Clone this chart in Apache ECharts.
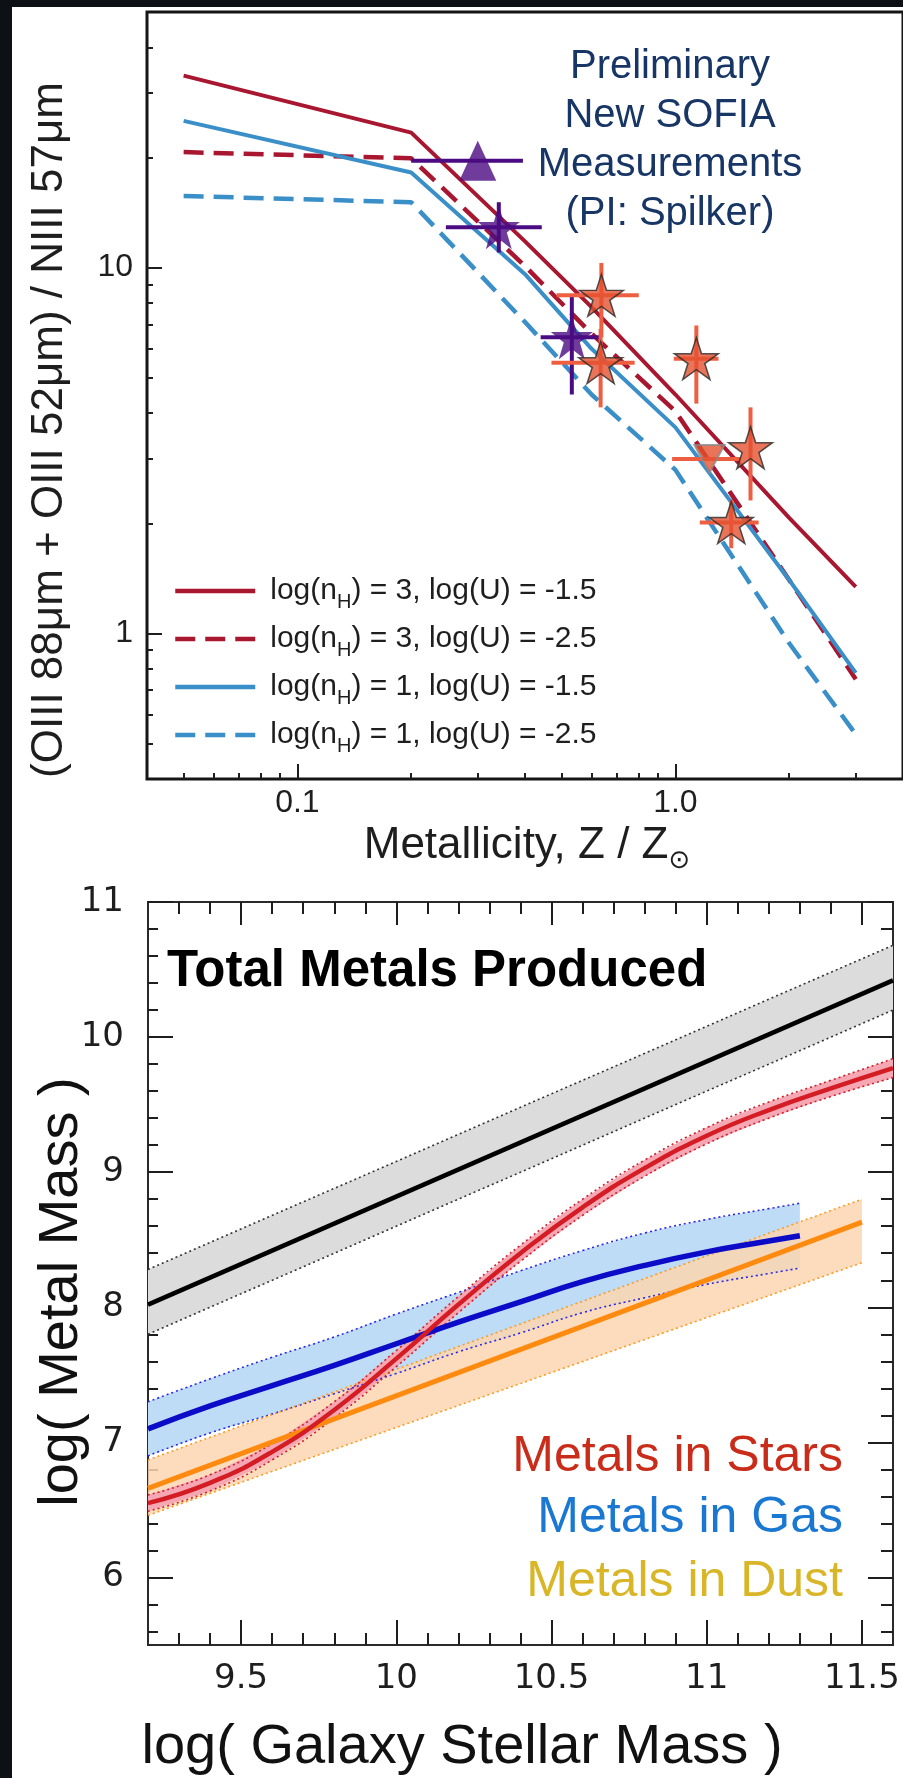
<!DOCTYPE html>
<html>
<head>
<meta charset="utf-8">
<title>Far-IR line ratios and the galaxy metal budget</title>
<script src="https://cdn.jsdelivr.net/npm/echarts@6.0.0/dist/echarts.min.js"></script>
<style>
  html, body { margin: 0; padding: 0; width: 903px; height: 1778px; background: #0d1014; overflow: hidden; }
  #paper { position: absolute; left: 12px; top: 7px; width: 891px; height: 1771px; background: #ffffff; }
  #chart { position: absolute; left: 0; top: 0; width: 903px; height: 1778px; }
</style>
</head>
<body>
<div id="paper"></div>
<div id="chart"></div>
<script>
// ---------- Upper panel: (OIII 88 + OIII 52) / NIII 57 versus metallicity ----------
const zModel     = [0.05, 0.2, 0.4, 0.6, 1.0, 2.0, 3.0];
const ratioN3U15 = [33.5, 23.4, 11.8, 7.8, 4.5, 2.07, 1.34];
const ratioN3U25 = [20.7, 19.9, 10.1, 6.6, 4.05, 1.4, 0.75];
const ratioN1U15 = [25.2, 18.2, 9.6, 6.0, 3.66, 1.4, 0.78];
const ratioN1U25 = [15.7, 15.1, 7.1, 4.5, 2.8, 0.94, 0.53];
const modelNames = [
  'log(nH) = 3, log(U) = -1.5',
  'log(nH) = 3, log(U) = -2.5',
  'log(nH) = 1, log(U) = -1.5',
  'log(nH) = 1, log(U) = -2.5'
];

// measurements: [Z, ratio, Z low, Z high, ratio low, ratio high]
const sofiaTriangle = [[0.30, 19.6, 0.20, 0.395, '-', '-']];
const sofiaStars = [
  [0.341, 12.9, 0.247, 0.443, 11.0, 15.1],
  [0.532, 6.45, 0.44, 0.634, 4.5, 8.4]
];
const litStars = [
  [0.637, 8.4, 0.485, 0.80, 6.45, 10.3],
  [0.634, 5.5, 0.47, 0.78, 4.15, 6.8],
  [1.136, 5.64, 0.99, 1.30, 4.25, 6.95],
  [1.58, 3.22, '-', '-', 2.31, 4.15],
  [1.405, 2.01, 1.16, 1.66, 1.71, 2.31]
];
const litLimit = [[1.23, 3.0, 0.98, 1.49, '-', '-']];

const upperXMajor  = [0.1, 1];
const upperXLabels = ['0.1', '1.0'];
const upperXMinor  = [0.05, 0.06, 0.07, 0.08, 0.09, 0.2, 0.3, 0.4, 0.5, 0.6, 0.7, 0.8, 0.9, 2, 3];
const upperYMajor  = [1, 10];
const upperYLabels = ['1', '10'];
const upperYMinor  = [0.5, 0.6, 0.7, 0.8, 0.9, 2, 3, 4, 5, 6, 7, 8, 9, 20, 30, 40];

// ---------- Lower panel: metal mass budget versus stellar mass ----------
const massTotal = [9.2, 11.6];
const totalMid  = [8.02, 10.42];
const totalHi   = [8.28, 10.68];
const totalLo   = [7.80, 10.20];

const massStars = [9.2, 9.4, 9.6, 9.8, 10.0, 10.2, 10.4, 10.6, 10.8, 11.0, 11.2, 11.4, 11.6];
const starsMid  = [6.55, 6.70, 6.93, 7.24, 7.62, 8.02, 8.40, 8.74, 9.03, 9.27, 9.46, 9.62, 9.77];
const starsHi   = [6.61, 6.76, 6.99, 7.30, 7.68, 8.08, 8.46, 8.80, 9.09, 9.33, 9.52, 9.68, 9.84];
const starsLo   = [6.49, 6.64, 6.87, 7.18, 7.56, 7.96, 8.34, 8.68, 8.97, 9.21, 9.40, 9.56, 9.70];

const massGas = [9.2, 9.4, 9.6, 9.8, 10.0, 10.2, 10.4, 10.6, 10.8, 11.0, 11.2, 11.3];
const gasMid  = [7.10, 7.27, 7.42, 7.57, 7.73, 7.89, 8.04, 8.19, 8.31, 8.41, 8.49, 8.53];
const gasHi   = [7.30, 7.47, 7.63, 7.78, 7.95, 8.11, 8.27, 8.42, 8.55, 8.65, 8.73, 8.77];
const gasLo   = [6.90, 7.07, 7.21, 7.36, 7.51, 7.67, 7.81, 7.96, 8.07, 8.17, 8.25, 8.29];

const massDust = [9.2, 11.5];
const dustMid  = [6.66, 8.63];
const dustHi   = [6.87, 8.80];
const dustLo   = [6.46, 8.33];

const lowerXMajor  = [9.5, 10, 10.5, 11, 11.5];
const lowerXLabels = ['9.5', '10', '10.5', '11', '11.5'];
const lowerXMinor  = [9.3, 9.4, 9.6, 9.7, 9.8, 9.9, 10.1, 10.2, 10.3, 10.4, 10.6, 10.7, 10.8, 10.9, 11.1, 11.2, 11.3, 11.4];
const lowerYMajor  = [6, 7, 8, 9, 10, 11];
const lowerYLabels = ['6', '7', '8', '9', '10', '11'];
const lowerYMinor  = [5.6, 5.8, 6.2, 6.4, 6.6, 6.8, 7.2, 7.4, 7.6, 7.8, 8.2, 8.4, 8.6, 8.8,
                      9.2, 9.4, 9.6, 9.8, 10.2, 10.4, 10.6, 10.8];

// ---------- styling ----------
const SANS = '"Liberation Sans", Arial, Helvetica, sans-serif';
const DEJAVU = '"DejaVu Sans", sans-serif';
const INK = '#1e1e1e';
const RED_M = '#A8162F', BLUE_M = '#3A8FC8', PURPLE = '#4B0B82', ORANGE = '#E4512F', ORANGE_BAR = '#EE5E40';

function lookupLabel(values, labels, logScale) {
  return function (v) {
    for (let i = 0; i < values.length; i++) {
      const d = logScale ? Math.abs(Math.log10(v) - Math.log10(values[i])) : Math.abs(v - values[i]);
      if (d < 1e-6) return labels[i];
    }
    return '';
  };
}

function tickAxis(opts) {
  const a = {
    gridIndex: opts.grid, type: opts.type, position: opts.position,
    min: opts.min, max: opts.max,
    axisLine: { show: false },
    splitLine: { show: false },
    axisTick: { show: true, inside: true, length: opts.length, customValues: opts.ticks,
                lineStyle: { color: INK, width: opts.tickWidth || 2 } },
    axisLabel: { show: false }
  };
  if (opts.type === 'log') a.logBase = 10;
  if (opts.labels) {
    a.axisLabel = {
      show: true, customValues: opts.ticks,
      formatter: lookupLabel(opts.ticks, opts.labels, opts.type === 'log'),
      margin: opts.margin, fontSize: opts.fontSize, fontFamily: opts.fontFamily, color: INK
    };
  }
  return a;
}

function modelLine(name, ys, color, dashed) {
  return {
    name, type: 'line', xAxisIndex: 0, yAxisIndex: 0, z: 2, silent: true,
    symbol: 'none', showSymbol: false,
    data: zModel.map((z, i) => [z, ys[i]]),
    lineStyle: { color, width: dashed ? 4.5 : 4, type: dashed ? [20, 10] : 'solid' },
    itemStyle: { color }
  };
}

function errorBars(rows, color) {
  return {
    type: 'custom', xAxisIndex: 0, yAxisIndex: 0, z: 3, silent: true,
    data: rows, encode: { x: 0, y: 1 },
    renderItem(params, api) {
      const z = api.value(0), r = api.value(1);
      const zl = api.value(2), zh = api.value(3), rl = api.value(4), rh = api.value(5);
      const kids = [];
      const seg = (p, q) => kids.push({ type: 'line', shape: { x1: p[0], y1: p[1], x2: q[0], y2: q[1] },
                                        style: { stroke: color, lineWidth: 4 } });
      if (isFinite(zl) && isFinite(zh)) seg(api.coord([zl, r]), api.coord([zh, r]));
      if (isFinite(rl) && isFinite(rh)) seg(api.coord([z, rl]), api.coord([z, rh]));
      return { type: 'group', children: kids };
    }
  };
}

const STAR = 'path://M50,0 L61.2,34.5 L97.6,34.5 L68.2,55.9 L79.4,90.5 L50,69.1 L20.6,90.5 L31.8,55.9 L2.4,34.5 L38.8,34.5 Z';

function markers(rows, symbol, size, style, rotate) {
  return {
    type: 'scatter', xAxisIndex: 0, yAxisIndex: 0, z: 4, silent: true,
    symbol, symbolSize: size, symbolRotate: rotate || 0,
    data: rows.map(r => [r[0], r[1]]),
    itemStyle: style
  };
}

function band(xs, lo, hi, fill) {
  return {
    type: 'custom', xAxisIndex: 2, yAxisIndex: 2, z: 1, silent: true,
    data: [[xs[0], lo[0]]], encode: { x: 0, y: 1 },
    renderItem(params, api) {
      const pts = xs.map((x, i) => api.coord([x, hi[i]]));
      for (let i = xs.length - 1; i >= 0; i--) pts.push(api.coord([xs[i], lo[i]]));
      return { type: 'polygon', shape: { points: pts }, style: { fill } };
    }
  };
}

function massLine(xs, ys, color, width, dotted, smooth) {
  return {
    type: 'line', xAxisIndex: 2, yAxisIndex: 2, z: dotted ? 2 : 3, silent: true,
    symbol: 'none', smooth: !!smooth,
    data: xs.map((x, i) => [x, ys[i]]),
    lineStyle: { color, width, type: dotted ? [2, 3] : 'solid' }
  };
}

const chart = echarts.init(document.getElementById('chart'), null, { renderer: 'canvas' });

const option = {
  animation: false,
  backgroundColor: 'transparent',
  grid: [
    { left: 147, top: 12, width: 758, height: 767, show: true, borderColor: '#151515', borderWidth: 3,
      backgroundColor: 'transparent' },
    { left: 148, top: 902, width: 745, height: 743, show: true, borderColor: '#2a2a2a', borderWidth: 2,
      backgroundColor: 'transparent' }
  ],
  xAxis: [
    tickAxis({ grid: 0, type: 'log', position: 'bottom', min: 0.04, max: 4, length: 15, ticks: upperXMajor,
               labels: upperXLabels, margin: 8, fontSize: 32, fontFamily: SANS }),
    tickAxis({ grid: 0, type: 'log', position: 'bottom', min: 0.04, max: 4, length: 6, ticks: upperXMinor }),
    tickAxis({ grid: 1, type: 'value', position: 'bottom', min: 9.2, max: 11.6, length: 25, ticks: lowerXMajor,
               labels: lowerXLabels, margin: 17, fontSize: 34, fontFamily: DEJAVU }),
    tickAxis({ grid: 1, type: 'value', position: 'bottom', min: 9.2, max: 11.6, length: 12, ticks: lowerXMinor }),
    tickAxis({ grid: 1, type: 'value', position: 'top', min: 9.2, max: 11.6, length: 23, ticks: lowerXMajor }),
    tickAxis({ grid: 1, type: 'value', position: 'top', min: 9.2, max: 11.6, length: 12, ticks: lowerXMinor })
  ],
  yAxis: [
    tickAxis({ grid: 0, type: 'log', position: 'left', min: 0.4, max: 50, length: 15, ticks: upperYMajor,
               labels: upperYLabels, margin: 14, fontSize: 32, fontFamily: SANS }),
    tickAxis({ grid: 0, type: 'log', position: 'left', min: 0.4, max: 50, length: 6, ticks: upperYMinor }),
    tickAxis({ grid: 1, type: 'value', position: 'left', min: 5.5, max: 11, length: 25, ticks: lowerYMajor,
               labels: lowerYLabels, margin: 24, fontSize: 34, fontFamily: DEJAVU }),
    tickAxis({ grid: 1, type: 'value', position: 'left', min: 5.5, max: 11, length: 10, ticks: lowerYMinor }),
    tickAxis({ grid: 1, type: 'value', position: 'right', min: 5.5, max: 11, length: 25, ticks: lowerYMajor }),
    tickAxis({ grid: 1, type: 'value', position: 'right', min: 5.5, max: 11, length: 12, ticks: lowerYMinor })
  ],
  legend: {
    data: modelNames, orient: 'vertical', left: 173, top: 576, padding: 0,
    itemWidth: 80, itemHeight: 2, itemGap: 12, selectedMode: false,
    lineStyle: { width: 4.5 },
    formatter: name => '{a|' + name.replace('nH', 'n}{s|H}{a|') + '}',
    textStyle: {
      padding: [0, 0, 0, 10],
      rich: {
        a: { fontSize: 30, fontFamily: SANS, color: INK, lineHeight: 42, verticalAlign: 'middle' },
        s: { fontSize: 20, fontFamily: SANS, color: INK, lineHeight: 42, verticalAlign: 'bottom' }
      }
    }
  },
  series: [
    modelLine(modelNames[0], ratioN3U15, RED_M, false),
    modelLine(modelNames[1], ratioN3U25, RED_M, true),
    modelLine(modelNames[2], ratioN1U15, BLUE_M, false),
    modelLine(modelNames[3], ratioN1U25, BLUE_M, true),

    errorBars(sofiaTriangle.concat(sofiaStars), PURPLE),
    errorBars(litStars.concat(litLimit), ORANGE_BAR),
    markers(sofiaTriangle, 'triangle', [37, 40], { color: PURPLE }),
    markers(sofiaStars, STAR, [42, 44], { color: PURPLE }),
    markers(litStars, STAR, [44, 42], { color: ORANGE, borderColor: '#2b2b2b', borderWidth: 1.5 }),
    markers(litLimit, 'triangle', [30, 28], { color: ORANGE, borderColor: '#8a8a8a', borderWidth: 2 }, 180),

    band(massTotal, totalLo, totalHi, '#dcdcdc'),
    band(massGas, gasLo, gasHi, '#bfdcf6'),
    band(massDust, dustLo, dustHi, 'rgba(251, 214, 176, 0.85)'),
    band(massStars, starsLo, starsHi, '#f5a8b3'),

    massLine(massTotal, totalHi, '#333333', 1.6, true),
    massLine(massTotal, totalLo, '#333333', 1.6, true),
    massLine(massGas, gasHi, '#2a2ae6', 1.6, true, true),
    massLine(massGas, gasLo, '#2a2ae6', 1.6, true, true),
    massLine(massDust, dustHi, '#ff9a22', 1.6, true),
    massLine(massDust, dustLo, '#ff9a22', 1.6, true),
    massLine(massStars, starsHi, '#d0202c', 1.6, true, true),
    massLine(massStars, starsLo, '#d0202c', 1.6, true, true),

    massLine(massTotal, totalMid, '#000000', 4.5, false),
    massLine(massGas, gasMid, '#0b0bc8', 5.5, false, true),
    massLine(massDust, dustMid, '#ff8a10', 5, false),
    massLine(massStars, starsMid, '#d41c24', 4.5, false, true)
  ],
  graphic: [
    { type: 'text', x: 670, y: 140, silent: true,
      style: { text: 'Preliminary\nNew SOFIA\nMeasurements\n(PI: Spilker)', fill: '#173565',
               fontSize: 40, fontFamily: SANS, lineHeight: 49, align: 'center', verticalAlign: 'middle' } },
    { type: 'text', x: 527, y: 846, silent: true,
      style: { text: '{a|Metallicity, Z / Z}{s|⊙}', align: 'center', verticalAlign: 'middle',
               rich: { a: { fontSize: 44, fontFamily: SANS, fill: INK, lineHeight: 56, verticalAlign: 'middle' },
                       s: { fontSize: 26, fontFamily: DEJAVU, fill: INK, lineHeight: 56, verticalAlign: 'bottom' } } } },
    { type: 'text', x: 50, y: 430, rotation: Math.PI / 2, silent: true,
      style: { text: '(OIII 88μm + OIII 52μm) / NIII 57μm', fill: INK, fontSize: 44, fontFamily: SANS,
               align: 'center', verticalAlign: 'middle' } },

    { type: 'text', x: 167, y: 972, silent: true,
      style: { text: 'Total Metals Produced', fill: '#000000', fontSize: 51, fontWeight: 'bold',
               fontFamily: SANS, align: 'left', verticalAlign: 'middle' } },
    { type: 'text', x: 843, y: 1457, silent: true,
      style: { text: 'Metals in Stars', fill: '#c92d1a', fontSize: 50, fontFamily: SANS,
               align: 'right', verticalAlign: 'middle' } },
    { type: 'text', x: 843, y: 1518, silent: true,
      style: { text: 'Metals in Gas', fill: '#1a78d2', fontSize: 50, fontFamily: SANS,
               align: 'right', verticalAlign: 'middle' } },
    { type: 'text', x: 843, y: 1582, silent: true,
      style: { text: 'Metals in Dust', fill: '#d8b628', fontSize: 50, fontFamily: SANS,
               align: 'right', verticalAlign: 'middle' } },
    { type: 'text', x: 462, y: 1748, silent: true,
      style: { text: 'log( Galaxy Stellar Mass )', fill: '#111111', fontSize: 56, fontFamily: SANS,
               align: 'center', verticalAlign: 'middle' } },
    { type: 'text', x: 62, y: 1292, rotation: Math.PI / 2, silent: true,
      style: { text: 'log( Metal Mass )', fill: '#111111', fontSize: 56, fontFamily: SANS,
               align: 'center', verticalAlign: 'middle' } }
  ]
};

chart.setOption(option);
</script>
</body>
</html>
